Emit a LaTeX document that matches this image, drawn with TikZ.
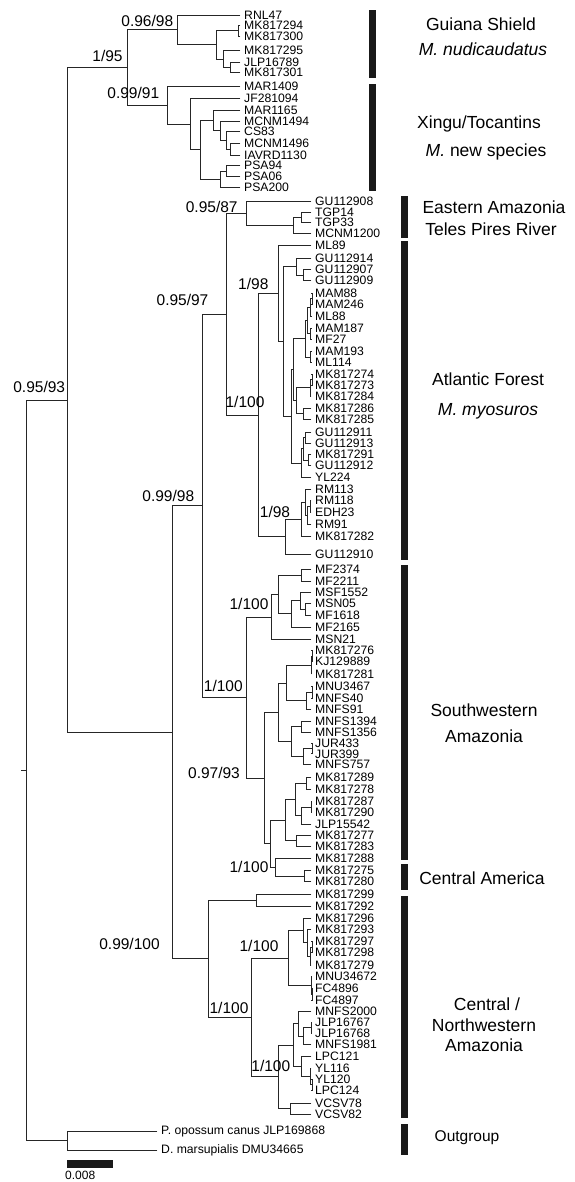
\documentclass[tikz,border=0pt]{standalone}
\usepackage{fontspec}
\setmainfont{Liberation Sans}
\usetikzlibrary{calc}
\tikzset{
  br/.style={line width=0.9pt, draw=black!85, line cap=rect},
  tiplab/.style={anchor=west, inner sep=0pt, xshift=4pt, font=\fontsize{12.2}{12.2}\selectfont},
  supp/.style={inner sep=0pt, font=\fontsize{15.5}{15.5}\selectfont},
  grp/.style={inner sep=0pt, font=\fontsize{17.5}{17.5}\selectfont},
  cbar/.style={fill=black!90}
}
\newcommand\leaf[4]{\coordinate (#1) at (#2,#3); \node[tiplab] (t#1) at (#1) {#4};}
\newcommand\inode[4]{%
  \coordinate (m#1) at ($(#3)!0.5!(#4)$);
  \coordinate (#1) at (#2,0 |- m#1);
  \draw[br] (#1) |- (#3); \draw[br] (#1) |- (#4);}
\begin{document}
\begin{tikzpicture}[x=1pt,y=-1pt]
\useasboundingbox (0,0) rectangle (574,1182);
% leaves, group 1
\leaf{L1}{240}{15}{RNL47}
\leaf{L2}{240}{25.5}{MK817294}
\leaf{L3}{240}{36}{MK817300}
\leaf{L4}{240}{50.7}{MK817295}
\leaf{L5}{240}{62}{JLP16789}
\leaf{L6}{240}{72.7}{MK817301}
\leaf{L7}{240}{86.7}{MAR1409}
\leaf{L8}{240}{98.3}{JF281094}
\leaf{L9}{240}{110}{MAR1165}
\leaf{L10}{240}{121}{MCNM1494}
\leaf{L11}{240}{131.7}{CS83}
\leaf{L12}{240}{143.3}{MCNM1496}
\leaf{L13}{240}{155}{IAVRD1130}
\leaf{L14}{240}{165.7}{PSA94}
\leaf{L15}{240}{176.5}{PSA06}
\leaf{L16}{240}{187.7}{PSA200}
% leaves, rest
\leaf{L17}{311}{201}{GU112908}
\leaf{L18}{311}{212.3}{TGP14}
\leaf{L19}{311}{222.8}{TGP33}
\leaf{L20}{311}{233.5}{MCNM1200}
\leaf{L21}{311}{245}{ML89}
\leaf{L22}{311}{258}{GU112914}
\leaf{L23}{311}{269.5}{GU112907}
\leaf{L24}{311}{280.7}{GU112909}
\leaf{L25}{311}{293}{MAM88}
\leaf{L26}{311}{304.5}{MAM246}
\leaf{L27}{311}{316.5}{ML88}
\leaf{L28}{311}{328.3}{MAM187}
\leaf{L29}{311}{339.5}{MF27}
\leaf{L30}{311}{351.5}{MAM193}
\leaf{L31}{311}{362.7}{ML114}
\leaf{L32}{311}{374}{MK817274}
\leaf{L33}{311}{385}{MK817273}
\leaf{L34}{311}{396}{MK817284}
\leaf{L35}{311}{408.3}{MK817286}
\leaf{L36}{311}{419.5}{MK817285}
\leaf{L37}{311}{432}{GU112911}
\leaf{L38}{311}{443.3}{GU112913}
\leaf{L39}{311}{454.5}{MK817291}
\leaf{L40}{311}{465.7}{GU112912}
\leaf{L41}{311}{477.3}{YL224}
\leaf{L42}{311}{489.5}{RM113}
\leaf{L43}{311}{500.7}{RM118}
\leaf{L44}{311}{512.3}{EDH23}
\leaf{L45}{311}{524}{RM91}
\leaf{L46}{311}{536.7}{MK817282}
\leaf{L47}{311}{554}{GU112910}
\leaf{L48}{311}{569.5}{MF2374}
\leaf{L49}{311}{581.5}{MF2211}
\leaf{L50}{311}{592}{MSF1552}
\leaf{L51}{311}{603.3}{MSN05}
\leaf{L52}{311}{615}{MF1618}
\leaf{L53}{311}{627.3}{MF2165}
\leaf{L54}{311}{639.5}{MSN21}
\leaf{L55}{311}{650.7}{MK817276}
\leaf{L56}{311}{661.7}{KJ129889}
\leaf{L57}{311}{674}{MK817281}
\leaf{L58}{311}{686.5}{MNU3467}
\leaf{L59}{311}{698.3}{MNFS40}
\leaf{L60}{311}{709.3}{MNFS91}
\leaf{L61}{311}{721}{MNFS1394}
\leaf{L62}{311}{732.7}{MNFS1356}
\leaf{L63}{311}{743.5}{JUR433}
\leaf{L64}{311}{753.8}{JUR399}
\leaf{L65}{311}{764.5}{MNFS757}
\leaf{L66}{311}{777.7}{MK817289}
\leaf{L67}{311}{789.3}{MK817278}
\leaf{L68}{311}{801.7}{MK817287}
\leaf{L69}{311}{812.3}{MK817290}
\leaf{L70}{311}{824}{JLP15542}
\leaf{L71}{311}{835}{MK817277}
\leaf{L72}{311}{846.7}{MK817283}
\leaf{L73}{311}{858.5}{MK817288}
\leaf{L74}{311}{870.7}{MK817275}
\leaf{L75}{311}{881.7}{MK817280}
\leaf{L76}{311}{894}{MK817299}
\leaf{L77}{311}{906}{MK817292}
\leaf{L78}{311}{918.3}{MK817296}
\leaf{L79}{311}{929.3}{MK817293}
\leaf{L80}{311}{941.5}{MK817297}
\leaf{L81}{311}{952.5}{MK817298}
\leaf{L82}{311}{965}{MK817279}
\leaf{L83}{311}{976.7}{MNU34672}
\leaf{L84}{311}{988.3}{FC4896}
\leaf{L85}{311}{1000}{FC4897}
\leaf{L86}{311}{1011.7}{MNFS2000}
\leaf{L87}{311}{1022}{JLP16767}
\leaf{L88}{311}{1033.3}{JLP16768}
\leaf{L89}{311}{1044.3}{MNFS1981}
\leaf{L90}{311}{1056.7}{LPC121}
\leaf{L91}{311}{1068.3}{YL116}
\leaf{L92}{311}{1079}{YL120}
\leaf{L93}{311}{1090}{LPC124}
\leaf{L94}{311}{1103}{VCSV78}
\leaf{L95}{311}{1114}{VCSV82}
\leaf{L96}{157}{1131}{P. opossum canus JLP169868}
\leaf{L97}{157}{1150}{D. marsupialis DMU34665}
% Guiana Shield
\inode{g4}{238.7}{L2}{L3}
\inode{g5}{230}{L5}{L6}
\inode{g3}{223.3}{L4}{g5}
\inode{g2}{216.7}{g4}{g3}
\inode{guiana}{177.7}{L1}{g2}
% Xingu
\inode{x6b}{230}{L12}{L13}
\inode{x6}{226.7}{L11}{x6b}
\inode{x5}{220}{L10}{x6}
\inode{x4}{213.3}{L9}{x5}
\inode{x8}{226.7}{L14}{L15}
\inode{x7}{220}{x8}{L16}
\inode{x3}{200}{x4}{x7}
\inode{x2}{190}{L8}{x3}
\inode{xingu}{167}{L7}{x2}
\inode{gx}{127}{guiana}{xingu}
% Eastern Amazonia
\inode{e2}{301.7}{L18}{L19}
\inode{e1}{293.3}{e2}{L20}
\inode{east}{246}{L17}{e1}
% Atlantic Forest
\inode{h3a}{303.3}{L23}{L24}
\inode{h3}{296.7}{L22}{h3a}
\inode{h6a1}{312}{L25}{L26}
\inode{h6a}{310.5}{h6a1}{L27}
\inode{h6b}{310.5}{L28}{L29}
\inode{h6ab}{307}{h6a}{h6b}
\inode{h6c}{310.5}{L30}{L31}
\inode{h6}{305}{h6ab}{h6c}
\inode{h7a1}{312}{L32}{L33}
\inode{h7a}{310}{h7a1}{L34}
\inode{h7b}{303.3}{L35}{L36}
\inode{h7}{296.7}{h7a}{h7b}
\inode{h5}{293.3}{h6}{h7}
\inode{h9a}{305}{L37}{L38}
\inode{h9b}{308.3}{L39}{L40}
\inode{h9ab}{303.3}{h9a}{h9b}
\inode{h9}{301.7}{h9ab}{L41}
\inode{h4}{291.7}{h5}{h9}
\inode{h2}{283.3}{h3}{h4}
\inode{hh}{278.3}{L21}{h2}
\inode{g3r}{310}{L43}{L44}
\inode{g2r}{307}{g3r}{L45}
\inode{g1r}{305}{L42}{g2r}
\inode{gr}{301.7}{g1r}{L46}
\inode{ff}{285}{gr}{L47}
\inode{ee}{258.3}{hh}{ff}
\inode{cc}{226.7}{east}{ee}
% Southwestern Amazonia
\inode{k0}{301.7}{L48}{L49}
\inode{k4}{305}{L51}{L52}
\inode{k3}{300}{L50}{k4}
\inode{k2}{291.7}{k3}{L53}
\inode{k1}{278.3}{k0}{k2}
\inode{kk}{271.7}{k1}{L54}
\inode{a1}{312}{L55}{L56}
\inode{a2}{311}{a1}{L57}
\inode{b1}{312.5}{L58}{L59}
\inode{b2}{306.7}{b1}{L60}
\inode{l1a}{286.7}{a2}{b2}
\inode{c1}{301.7}{L61}{L62}
\inode{d1}{312}{L63}{L64}
\inode{d2}{303.3}{d1}{L65}
\inode{l1b}{291.7}{c1}{d2}
\inode{l1}{278.3}{l1a}{l1b}
\inode{p66}{306.7}{L66}{L67}
\inode{p68}{311}{L68}{L69}
\inode{l5}{301.7}{p68}{L70}
\inode{l4}{295}{p66}{l5}
\inode{p71}{296.7}{L71}{L72}
\inode{l3}{285}{l4}{p71}
% Central America
\inode{m1}{304.3}{L74}{L75}
\inode{mm}{275}{L73}{m1}
\inode{l2}{270}{l3}{mm}
\inode{ll}{264.3}{l1}{l2}
\inode{jj}{246}{kk}{ll}
\inode{bb}{202.7}{cc}{jj}
% Central / Northwestern Amazonia
\inode{nn}{256.7}{L76}{L77}
\inode{q80}{312.5}{L80}{L81}
\inode{p1b}{310}{q80}{L82}
\inode{p1a}{307.5}{L79}{p1b}
\inode{p1}{303.3}{L78}{p1a}
\inode{p2a}{312}{L84}{L85}
\inode{p2}{311}{L83}{p2a}
\inode{pp}{288.3}{p1}{p2}
\inode{q87}{311.7}{L87}{L88}
\inode{q1c}{303.3}{q87}{L89}
\inode{q1a}{298.3}{L86}{q1c}
\inode{q92}{312.5}{L92}{L93}
\inode{q1d}{310}{L91}{q92}
\inode{q1b}{301.7}{L90}{q1d}
\inode{q1}{293.3}{q1a}{q1b}
\inode{q2}{290}{L94}{L95}
\inode{qq}{278.3}{q1}{q2}
\inode{oo}{251.7}{pp}{qq}
\inode{ii}{208.3}{nn}{oo}
\inode{aa}{172.7}{bb}{ii}
\inode{ing}{67}{gx}{aa}
\inode{outg}{67}{L96}{L97}
\inode{root}{26}{ing}{outg}
\coordinate (rstub) at (21,0 |- root);
\draw[br] (rstub) -- (root);
% support values
\node[supp] (s1) at (147.3,21) {0.96/98};
\node[supp] (s2) at (107.5,56) {1/95};
\node[supp] (s3) at (133.3,93) {0.99/91};
\node[supp] (s4) at (211.7,207) {0.95/87};
\node[supp] (s5) at (253.3,284) {1/98};
\node[supp] (s6) at (182.5,300) {0.95/97};
\node[supp] (s7) at (39.2,387) {0.95/93};
\node[supp] (s8) at (245,402) {1/100};
\node[supp] (s9) at (168.3,496) {0.99/98};
\node[supp] (s10) at (275,512) {1/98};
\node[supp] (s11) at (249,603.7) {1/100};
\node[supp] (s12) at (223.3,686) {1/100};
\node[supp] (s13) at (214,773) {0.97/93};
\node[supp] (s14) at (249,867) {1/100};
\node[supp] (s15) at (129.5,943.7) {0.99/100};
\node[supp] (s16) at (259,946) {1/100};
\node[supp] (s17) at (229,1008) {1/100};
\node[supp] (s18) at (270.8,1066) {1/100};
% clade bars
\fill[cbar] (369,10) rectangle (376,78);
\fill[cbar] (369,84) rectangle (376,191);
\fill[cbar] (401,196) rectangle (408,238);
\fill[cbar] (401,241) rectangle (408,560);
\fill[cbar] (401,565) rectangle (408,860);
\fill[cbar] (401,864) rectangle (408,890);
\fill[cbar] (401,896) rectangle (408,1118);
\fill[cbar] (401,1124) rectangle (408,1155);
% clade labels
\node[grp] (c1a) at (481,24) {Guiana Shield};
\node[grp] (c1b) at (483,49) {\itshape M. nudicaudatus};
\node[grp] (c2a) at (479,124) {Xingu/Tocantins};
\node[grp] (c2b) at (486,152) {\textit{M.} new species};
\node[grp] (c3a) at (494,207) {Eastern Amazonia};
\node[grp] (c3b) at (491,229) {Teles Pires River};
\node[grp] (c4a) at (488,379) {Atlantic Forest};
\node[grp] (c4b) at (488,411) {\itshape M. myosuros};
\node[grp] (c5a) at (484,710) {Southwestern};
\node[grp] (c5b) at (484,736) {Amazonia};
\node[grp] (c6a) at (482,878) {Central America};
\node[grp] (c7a) at (487,1004) {Central /};
\node[grp] (c7b) at (484,1025) {Northwestern};
\node[grp] (c7c) at (484,1045) {Amazonia};
\node[grp,font=\fontsize{15.5}{15.5}\selectfont] (c8a) at (467,1138) {Outgroup};
% scale bar
\fill[black!90] (67,1160) rectangle (113,1168);
\node[anchor=west,inner sep=0pt,font=\fontsize{12}{12}\selectfont] (sc) at (65,1175) {0.008};
\end{tikzpicture}
\end{document}
